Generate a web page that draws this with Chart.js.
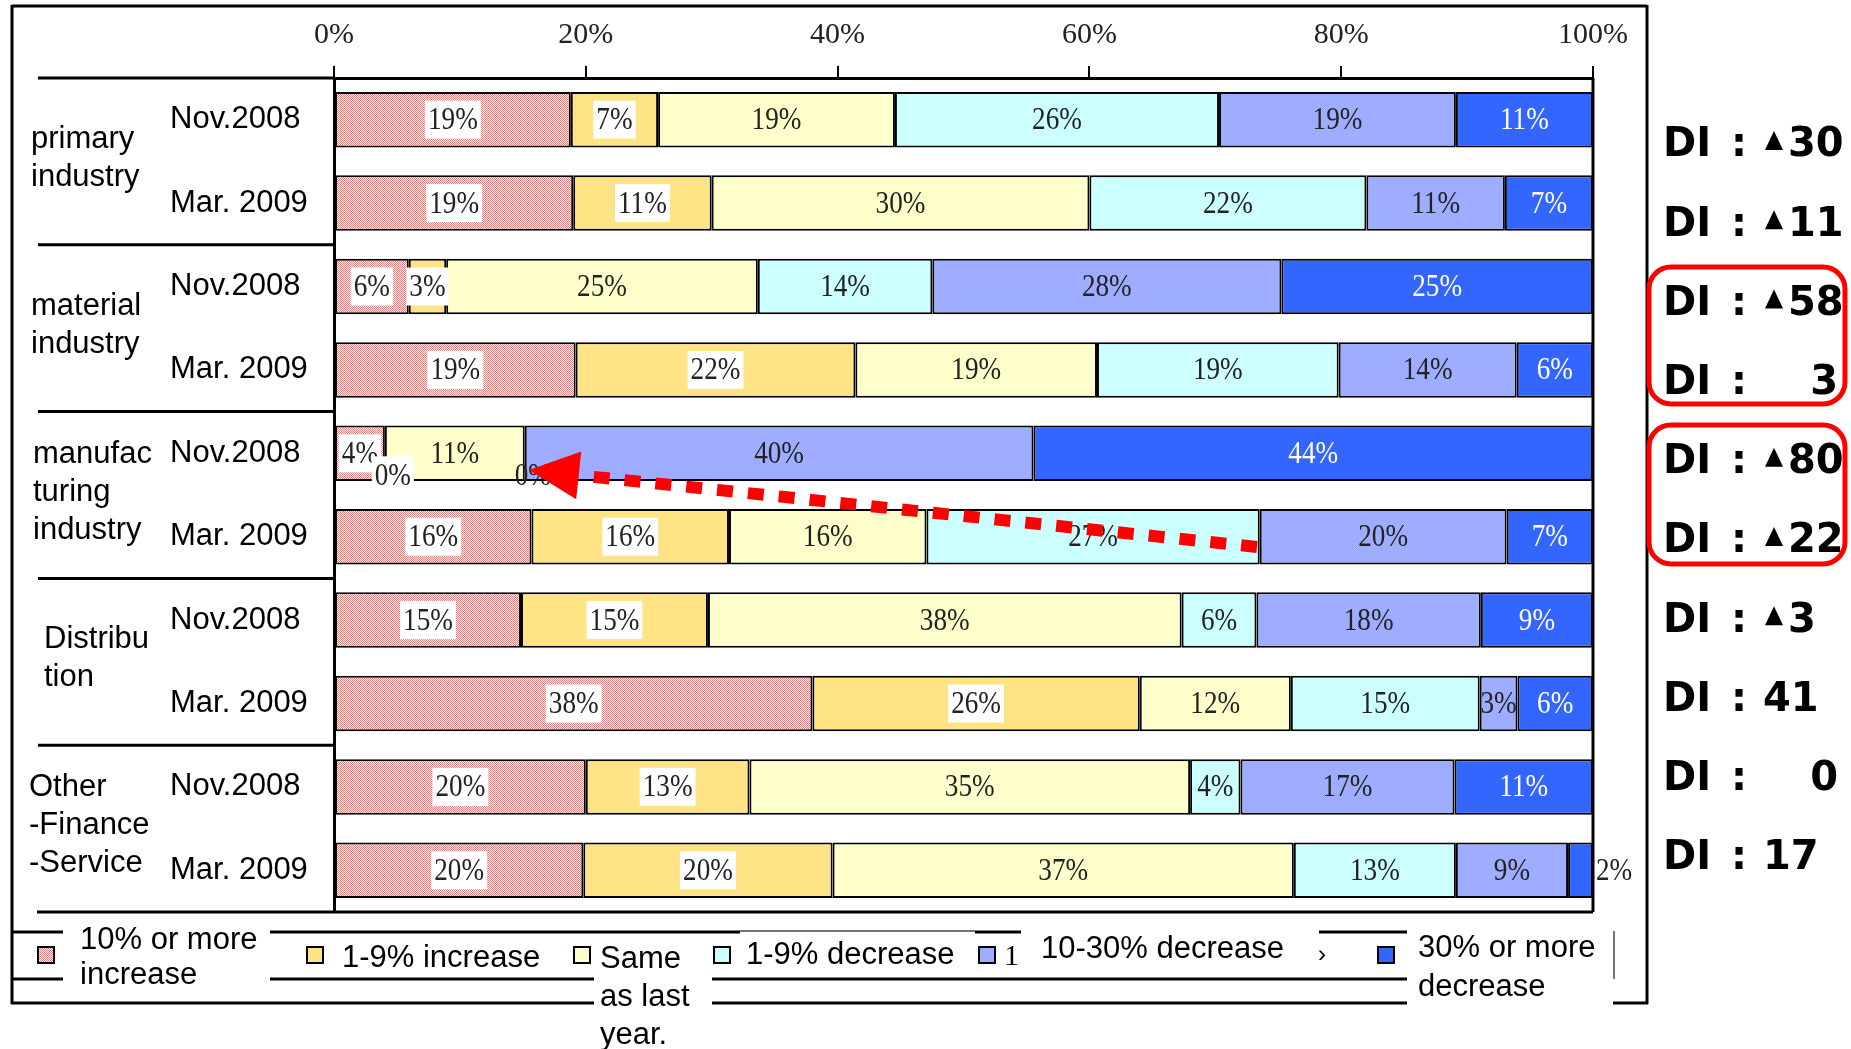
<!DOCTYPE html>
<html><head><meta charset="utf-8">
<script src="https://cdn.jsdelivr.net/npm/chart.js@4.4.1/dist/chart.umd.min.js"></script>
<style>html,body{margin:0;padding:0;background:#fff;}canvas{display:block;}</style>
</head><body>
<canvas id="c" width="1851" height="1049"></canvas>
<script>
// ---------- DATA ----------
const periods = ['Nov.2008','Mar. 2009','Nov.2008','Mar. 2009','Nov.2008','Mar. 2009','Nov.2008','Mar. 2009','Nov.2008','Mar. 2009'];
const groupNames = [['primary','industry'],['material','industry'],['manufac','turing','industry'],['Distribu','tion'],['Other','-Finance','-Service']];
const seriesNames = ['10% or more increase','1-9% increase','Same as last year.','1-9% decrease','10-30% decrease','30% or more decrease'];
const inc10   = [19,19, 6,19, 4,16,15,38,20,20];
const inc1_9  = [ 7,11, 3,22, 0,16,15,26,13,20];
const same    = [19,30,25,19,11,16,38,12,35,37];
const dec1_9  = [26,22,14,19, 0,27, 6,15, 4,13];
const dec10_30= [19,11,28,14,40,20,18, 3,17, 9];
const dec30   = [11, 7,25, 6,44, 7, 9, 6,11, 2];
const xTickValues = [0,20,40,60,80,100];
const diLabels = ['▲30','▲11','▲58','3','▲80','▲22','▲3','41','0','17'];
const legendLines = [['10% or more','increase'],['1-9% increase'],['Same','as last','year.'],['1-9% decrease'],['10-30% decrease'],['30% or more','decrease']];

// ---------- STYLE ----------
function pattern(a, b) {
  const c = document.createElement('canvas'); c.width = 2; c.height = 2;
  const g = c.getContext('2d');
  g.fillStyle = b; g.fillRect(0,0,2,2);
  g.fillStyle = a; g.fillRect(0,0,1,1); g.fillRect(1,1,1,1);
  return g.createPattern(c, 'repeat');
}
const pinkPat = pattern('#ff7a7a', '#fff0f0');
const lavPat = pattern('#90a6ff', '#aab4ff');
const colors = [pinkPat, '#ffe384', '#ffffcc', '#ccffff', lavPat, '#3366ff'];
const series = [inc10, inc1_9, same, dec1_9, dec10_30, dec30];
const rowSums = periods.map((_, j) => series.reduce((s, arr) => s + arr[j], 0));

const SX = 0.85;
function drawLabel(ctx, text, cx, cy, color, box, align) {
  ctx.save();
  ctx.font = '32px "Liberation Serif"';
  const w = ctx.measureText(text).width * SX;
  let left = align === 'left' ? cx : cx - w / 2;
  if (box) { ctx.fillStyle = '#fff'; ctx.fillRect(left - 3, cy - 19, w + 6, 38); }
  ctx.translate(left + w / 2, cy); ctx.scale(SX, 1);
  ctx.fillStyle = color; ctx.textAlign = 'center'; ctx.textBaseline = 'middle';
  ctx.fillText(text, 0, 1);
  ctx.restore();
  return w;
}

const labelsPlugin = {
  id: 'barLabels',
  afterDatasetsDraw(chart) {
    const ctx = chart.ctx;
    series.forEach((arr, i) => {
      const meta = chart.getDatasetMeta(i);
      meta.data.forEach((bar, j) => {
        const p = bar.getProps(['x','y','base'], true);
        const v = arr[j];
        const text = v + '%';
        const cx = (p.x + p.base) / 2;
        const segW = Math.abs(p.x - p.base);
        const box = (i === 0 || i === 1);
        if (v === 0) { drawLabel(ctx, text, cx + 8, p.y + 22, '#222', box); return; }
        ctx.font = '32px "Liberation Serif"';
        const tw = ctx.measureText(text).width * SX;
        if (i === 5 && segW < tw) { drawLabel(ctx, text, p.x + 3, p.y, '#222', false, 'left'); return; }
        drawLabel(ctx, text, cx, p.y, i === 5 ? '#ffffff' : '#222', box);
      });
    });
  }
};

function seg(ctx, x1, y1, x2, y2) { ctx.beginPath(); ctx.moveTo(x1, y1); ctx.lineTo(x2, y2); ctx.stroke(); }

const decorPlugin = {
  id: 'decor',
  beforeDraw(chart) {
    const ctx = chart.ctx; ctx.save(); ctx.fillStyle = '#fff'; ctx.fillRect(0,0,chart.width,chart.height); ctx.restore();
  },
  afterDraw(chart) {
    const ctx = chart.ctx, ca = chart.chartArea, ys = chart.scales.y;
    ctx.save();
    ctx.strokeStyle = '#000'; ctx.lineWidth = 3; ctx.lineCap = 'butt';
    // outer frame
    seg(ctx, 12, 6, 1647, 6); seg(ctx, 12, 5, 12, 1004); seg(ctx, 1647, 5, 1647, 1004);
    seg(ctx, 11, 1003, 594, 1003); seg(ctx, 712, 1003, 1407, 1003); seg(ctx, 1613, 1003, 1648, 1003);
    // plot box
    seg(ctx, 38, ca.top, ca.left, ca.top);
    seg(ctx, 37, ca.bottom, ca.right, ca.bottom);
    seg(ctx, ca.right, ca.top, ca.right, ca.bottom);
    for (let g = 1; g < groupNames.length; g++) {
      const y = (ys.getPixelForValue(2*g - 1) + ys.getPixelForValue(2*g)) / 2;
      seg(ctx, 38, y, ca.left, y);
    }
    // legend lines
    seg(ctx, 12, 932, 63, 932); seg(ctx, 270, 932, 740, 932); seg(ctx, 975, 932, 1021, 932); seg(ctx, 1319, 932, 1407, 932);
    seg(ctx, 12, 979, 63, 979); seg(ctx, 270, 979, 594, 979); seg(ctx, 712, 979, 1407, 979);
    ctx.lineWidth = 1.5; ctx.strokeStyle = '#444';
    seg(ctx, 740, 931, 975, 931); seg(ctx, 1614, 931, 1614, 979);

    // group labels
    ctx.fillStyle = '#000'; ctx.font = '31px "Liberation Sans"'; ctx.textAlign = 'left'; ctx.textBaseline = 'middle';
    const groupX = [31, 31, 33, 44, 29];
    groupNames.forEach((lines, g) => {
      const yc = (ys.getPixelForValue(2*g) + ys.getPixelForValue(2*g + 1)) / 2 - 3;
      lines.forEach((t, k) => ctx.fillText(t, groupX[g], yc + (k - (lines.length - 1) / 2) * 38));
    });

    // legend
    const boxX = [38, 307, 574, 714, 979, 1378];
    colors.forEach((c, i) => {
      ctx.fillStyle = c; ctx.fillRect(boxX[i], 947, 16, 16);
      ctx.lineWidth = 2; ctx.strokeStyle = '#000'; ctx.strokeRect(boxX[i], 947, 16, 16);
    });
    const legPos = [[80, 940], [342, 958], [600, 959], [746, 955], [1041, 949], [1418, 948]];
    const legStep = [35, 0, 38, 0, 0, 39];
    ctx.fillStyle = '#000'; ctx.font = '31px "Liberation Sans"';
    legendLines.forEach((lines, i) => {
      lines.forEach((t, k) => ctx.fillText(t, legPos[i][0], legPos[i][1] + k * legStep[i]));
    });
    ctx.font = '30px "Liberation Serif"'; ctx.fillText('1', 1004, 957);
    ctx.font = '24px "Liberation Sans"'; ctx.fillText('›', 1318, 955);

    // DI column
    ctx.font = 'bold 40px "DejaVu Sans"'; ctx.fillStyle = '#000';
    diLabels.forEach((v, i) => {
      const y = 146 + i * 79.2;
      ctx.textAlign = 'left';
      ctx.fillText('DI', 1663, y);
      ctx.fillText(':', 1731, y);
      if (v.startsWith('▲')) {
        ctx.beginPath(); ctx.moveTo(1774, y - 15); ctx.lineTo(1783, y + 4); ctx.lineTo(1765, y + 4); ctx.closePath(); ctx.fill();
        ctx.fillText(v.slice(1), 1788, y);
      } else if (v.length === 1) {
        ctx.textAlign = 'right'; ctx.fillText(v, 1838, y);
      } else {
        ctx.fillText(v, 1763, y);
      }
    });

    // red boxes
    ctx.strokeStyle = '#ff0000'; ctx.lineWidth = 5;
    [[1649, 267, 196, 137], [1649, 425, 196, 139]].forEach(r => {
      ctx.beginPath(); ctx.roundRect(r[0], r[1], r[2], r[3], 22); ctx.stroke();
    });

    // red dashed arrow
    const tip = [529, 470], tail = [1257, 547];
    const dx = tip[0] - tail[0], dy = tip[1] - tail[1], L = Math.hypot(dx, dy);
    const ux = dx / L, uy = dy / L, nx = -uy, ny = ux;
    const hl = 50, hw = 24;
    const bx = tip[0] - ux * hl, by = tip[1] - uy * hl;
    ctx.strokeStyle = '#ff0000'; ctx.lineWidth = 12; ctx.setLineDash([16, 15]);
    seg(ctx, tail[0], tail[1], bx, by);
    ctx.setLineDash([]);
    ctx.fillStyle = '#ff0000';
    ctx.beginPath(); ctx.moveTo(tip[0], tip[1]); ctx.lineTo(bx + nx * hw, by + ny * hw); ctx.lineTo(bx - nx * hw, by - ny * hw); ctx.closePath(); ctx.fill();
    ctx.restore();
  }
};

new Chart(document.getElementById('c'), {
  type: 'bar',
  data: {
    labels: periods,
    datasets: series.map((arr, i) => ({
      label: seriesNames[i],
      data: arr.map((v, j) => v / rowSums[j] * 100),
      backgroundColor: colors[i],
      borderColor: '#000',
      borderWidth: 2,
      borderSkipped: false,
      barPercentage: 0.665,
      categoryPercentage: 1
    }))
  },
  options: {
    indexAxis: 'y',
    responsive: false,
    devicePixelRatio: 1,
    animation: false,
    layout: { padding: { left: 170, right: 258, top: 0, bottom: 137 } },
    plugins: { legend: { display: false }, tooltip: { enabled: false } },
    scales: {
      x: {
        position: 'top', stacked: true, min: 0, max: 100,
        afterBuildTicks: s => { s.ticks = xTickValues.map(v => ({ value: v })); },
        afterFit: s => { s.height = 78; },
        ticks: { callback: v => v + '%', font: { family: 'Liberation Serif', size: 30 }, color: '#222', padding: 13, maxRotation: 0, autoSkip: false },
        grid: { drawOnChartArea: false, drawTicks: true, tickLength: 12, color: '#000', lineWidth: 2 },
        border: { display: true, color: '#000', width: 3 }
      },
      y: {
        stacked: true,
        afterFit: s => { s.width = 164; },
        ticks: { crossAlign: 'far', font: { family: 'Liberation Sans', size: 31 }, color: '#000', autoSkip: false },
        grid: { display: false, drawTicks: false },
        border: { display: true, color: '#000', width: 3 }
      }
    }
  },
  plugins: [labelsPlugin, decorPlugin]
});
</script>
</body></html>
